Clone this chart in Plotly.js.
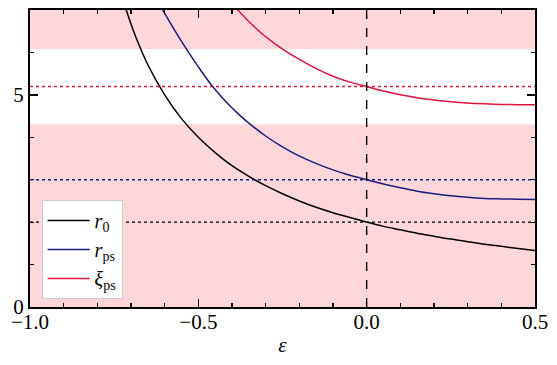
<!DOCTYPE html>
<html><head><meta charset="utf-8">
<script src="https://cdn.plot.ly/plotly-3.0.1.min.js"></script>
<style>html,body{margin:0;padding:0;background:#fff}#c{width:557px;height:365px}</style>
</head><body><div id="c"></div>
<script>
// epsilon grids and read values
const epsR0 = [-0.72,-0.70,-0.68,-0.65,-0.60,-0.55,-0.50,-0.45,-0.40,-0.35,-0.30,-0.25,-0.20,-0.15,-0.10,-0.05,0.00,0.05,0.10,0.15,0.20,0.25,0.30,0.35,0.40,0.45,0.50];
const r0 = [7.14,6.67,6.25,5.71,5.00,4.44,4.00,3.64,3.33,3.08,2.86,2.67,2.50,2.35,2.22,2.11,2.00,1.90,1.82,1.74,1.67,1.60,1.54,1.48,1.43,1.38,1.33];

const epsPs = [-0.62,-0.60,-0.55,-0.50,-0.46,-0.42,-0.38,-0.34,-0.30,-0.26,-0.22,-0.18,-0.14,-0.10,-0.06,-0.02,0.00,0.05,0.10,0.15,0.20,0.25,0.30,0.35,0.40,0.45,0.50];
const rps = [7.20,6.92,6.26,5.66,5.22,4.855,4.54,4.27,4.03,3.82,3.64,3.485,3.35,3.232,3.13,3.043,3.00,2.90,2.81,2.73,2.67,2.62,2.585,2.56,2.548,2.54,2.535];

const epsXi = [-0.40,-0.38,-0.35,-0.30,-0.25,-0.20,-0.15,-0.10,-0.05,0.00,0.05,0.10,0.15,0.20,0.25,0.30,0.35,0.40,0.45,0.50];
const xips = [7.15,6.98,6.73,6.37,6.08,5.835,5.62,5.44,5.30,5.196,5.09,5.00,4.93,4.88,4.84,4.81,4.79,4.775,4.768,4.765];

const refLevels = [2.0, 3.0, 5.196];
const bandLow = [0, 4.31];
const bandHigh = [6.08, 7];
const xTickVals = [-1.0, -0.5, 0.0, 0.5];
const xTickText = ['\u22121.0', '\u22120.5', '0.0', '0.5'];
const yTickVals = [0, 5];
const yTickText = ['0', '5'];

const cBlack = '#000000', cNavy = '#1c1c80', cRed = '#dc143c';
const colors = [cBlack, cNavy, cRed];

const traces = [
  {x: epsR0, y: r0, mode: 'lines', line: {color: cBlack, width: 1.5, shape: 'spline'}, name: '<i>r</i><sub>0</sub>'},
  {x: epsPs, y: rps, mode: 'lines', line: {color: cNavy, width: 1.5, shape: 'spline'}, name: '<i>r</i><sub>ps</sub>'},
  {x: epsXi, y: xips, mode: 'lines', line: {color: cRed, width: 1.5, shape: 'spline'}, name: '<i>\u03BE</i><sub>ps</sub>'}
];

const shapes = [];
[bandLow, bandHigh].forEach(b => shapes.push({type: 'rect', xref: 'paper', yref: 'y', x0: 0, x1: 1, y0: b[0], y1: b[1], fillcolor: '#ffd7da', line: {width: 0}, layer: 'below'}));
refLevels.forEach((v, i) => shapes.push({type: 'line', xref: 'paper', yref: 'y', x0: 0, x1: 1, y0: v, y1: v, line: {color: colors[i], width: 1.4, dash: 'dot'}}));
shapes.push({type: 'line', xref: 'x', yref: 'paper', x0: 0, x1: 0, y0: 0, y1: 1, line: {color: '#000', width: 1.4, dash: 'dash'}});

const fontFam = "'Liberation Serif', 'DejaVu Serif', serif";
const layout = {
  width: 557, height: 365,
  margin: {l: 30, r: 22, t: 10, b: 58},
  paper_bgcolor: '#fff', plot_bgcolor: 'rgba(0,0,0,0)',
  font: {family: fontFam, size: 21, color: '#000'},
  showlegend: true,
  legend: {x: 0.023, y: 0.027, xanchor: 'left', yanchor: 'bottom', bgcolor: '#fff', bordercolor: '#cccccc', borderwidth: 1,
           font: {family: fontFam, size: 20}, tracegroupgap: 0, itemwidth: 42},
  xaxis: {range: [-1, 0.5], tickvals: xTickVals, ticktext: xTickText, ticks: 'inside', ticklen: 8, tickwidth: 1.3, tickcolor: '#000',
          ticklabelstandoff: -5,
          showline: true, linewidth: 2, linecolor: '#000', mirror: 'ticks', showgrid: false, zeroline: false,
          minor: {dtick: 0.1, ticks: 'inside', ticklen: 4, tickwidth: 1.2, tickcolor: '#000', showgrid: false},
          title: {text: '<i>\u03B5</i>', font: {size: 21}, standoff: 4}},
  yaxis: {range: [0, 7], tickvals: yTickVals, ticktext: yTickText, ticks: 'inside', ticklen: 8, tickwidth: 1.3, tickcolor: '#000',
          showline: true, linewidth: 2, linecolor: '#000', mirror: 'ticks', showgrid: false, zeroline: false,
          minor: {dtick: 1, ticks: 'inside', ticklen: 4, tickwidth: 1.2, tickcolor: '#000', showgrid: false}},
  shapes: shapes
};
Plotly.newPlot('c', traces, layout, {staticPlot: true, displayModeBar: false});
</script></body></html>
